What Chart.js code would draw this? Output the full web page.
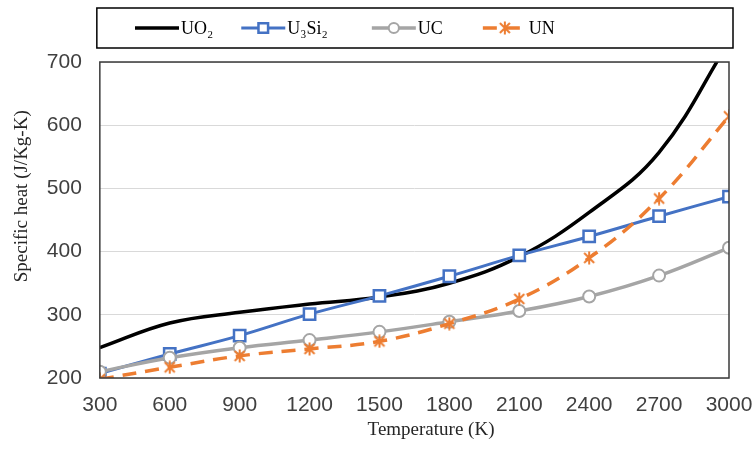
<!DOCTYPE html>
<html>
<head>
<meta charset="utf-8">
<script src="https://cdn.jsdelivr.net/npm/chart.js@4.4.0/dist/chart.umd.min.js"></script>
<style>
    html, body { margin: 0; padding: 0; background: #fff; }
    #wrap { width: 755px; height: 450px; }
</style>
</head>
<body>
<div id="wrap"><canvas id="chart" width="755" height="450"></canvas></div>
<script>
// temperature (K) and specific heat (J/Kg-K)
var temps = [300, 600, 900, 1200, 1500, 1800, 2100, 2400, 2700, 3000];
var uo2   = [248, 287, 304, 317, 328, 350, 392, 462, 557, 732];
var u3si2 = [207, 238, 267, 301, 330, 361, 394, 424, 456, 487];
var uc    = [210, 232, 248, 260, 273, 289, 306, 329, 362, 406];
var un    = [198, 217, 235, 246, 258, 286, 325, 390, 484, 614];

var names = ['UO\u2082', 'U\u2083Si\u2082', 'UC', 'UN'];
// the titles sit a little off-centre in the original, leading spaces shift them
var xTitle = '       Temperature (K)';
var yTitle = '          Specific heat (J/Kg-K)';

function pairs(ys) {
    var out = [];
    for (var i = 0; i < temps.length; i++) {
        out.push({ x: temps[i], y: ys[i] });
    }
    return out;
}

/* asterisk marker, like the excel one */
function starMarker(color) {
    var c = document.createElement('canvas');
    c.width = 14;
    c.height = 14;
    var g = c.getContext('2d');
    g.strokeStyle = color;
    g.lineWidth = 2;
    g.beginPath();
    g.moveTo(2, 2); g.lineTo(12, 12);
    g.moveTo(12, 2); g.lineTo(2, 12);
    g.moveTo(7, 0.5); g.lineTo(7, 13.5);
    g.stroke();
    return c;
}

var serif = '"Liberation Serif", "Times New Roman", serif';
var sans = '"Liberation Sans", Arial, sans-serif';

/* plot frame and the boxed legend on top */
var legendGaps = [28, 44, 40];
var frame = {
    id: 'frame',
    afterDatasetsDraw: function (chart) {
        var ctx = chart.ctx;
        var a = chart.chartArea;
        ctx.save();
        ctx.strokeStyle = '#3a3a3a';
        ctx.lineWidth = 1.5;
        ctx.strokeRect(a.left, a.top, a.right - a.left, a.bottom - a.top);
        ctx.restore();
    },
    afterDraw: function (chart) {
        var ctx = chart.ctx;
        var a = chart.chartArea;
        ctx.save();
        ctx.strokeStyle = '#000';
        ctx.lineWidth = 1.5;
        ctx.strokeRect(a.left - 3, 8, a.right - a.left + 7, 40);

        ctx.font = '18px ' + serif;
        ctx.textBaseline = 'middle';
        ctx.textAlign = 'left';
        var x = 135, y = 28;
        chart.data.datasets.forEach(function (ds, i) {
            ctx.strokeStyle = ds.borderColor;
            ctx.lineWidth = ds.borderWidth;
            ctx.setLineDash(ds.borderDash || []);
            ctx.beginPath();
            ctx.moveTo(x, y);
            ctx.lineTo(x + 44, y);
            ctx.stroke();
            ctx.setLineDash([]);
            if (ds.pointRadius > 0) {
                ctx.fillStyle = ds.pointBackgroundColor;
                ctx.strokeStyle = ds.pointBorderColor;
                ctx.lineWidth = ds.pointBorderWidth;
                Chart.helpers.drawPoint(ctx, {
                    pointStyle: ds.pointStyle,
                    rotation: 0,
                    radius: ds.pointRadius * 0.85,
                    borderWidth: ds.pointBorderWidth
                }, x + 22, y);
            }
            ctx.fillStyle = '#000';
            ctx.fillText(ds.label, x + 46, y + 1);
            x += 46 + ctx.measureText(ds.label).width + (legendGaps[i] || 0);
        });
        ctx.restore();
    }
};

var chart = new Chart(document.getElementById('chart'), {
    type: 'line',
    data: {
        datasets: [{
            label: names[0],
            data: pairs(uo2),
            borderColor: '#000000',
            borderWidth: 3.5,
            pointRadius: 0,
            tension: 0.4,
            order: 3
        }, {
            label: names[1],
            data: pairs(u3si2),
            borderColor: '#4472C4',
            borderWidth: 3,
            pointStyle: 'rect',
            pointRadius: 8,
            pointBorderWidth: 2.5,
            pointBackgroundColor: '#ffffff',
            pointBorderColor: '#4472C4',
            tension: 0.4,
            order: 2
        }, {
            label: names[2],
            data: pairs(uc),
            borderColor: '#A5A5A5',
            borderWidth: 3.5,
            pointStyle: 'circle',
            pointRadius: 6,
            pointBorderWidth: 2,
            pointBackgroundColor: '#ffffff',
            pointBorderColor: '#A5A5A5',
            tension: 0.4,
            order: 1
        }, {
            label: names[3],
            data: pairs(un),
            borderColor: '#ED7D31',
            borderWidth: 3.5,
            borderDash: [14, 9],
            pointStyle: starMarker('#ED7D31'),
            pointRadius: 7,
            pointBorderWidth: 2,
            pointBackgroundColor: '#ED7D31',
            pointBorderColor: '#ED7D31',
            tension: 0.4,
            order: 0
        }]
    },
    options: {
        responsive: false,
        animation: false,
        devicePixelRatio: 1,
        layout: { padding: { top: 62, right: 26, left: 11, bottom: 0 } },
        plugins: {
            legend: { display: false },
            tooltip: { enabled: false }
        },
        scales: {
            x: {
                type: 'linear',
                min: 300,
                max: 3000,
                // tick marks only used as a gap, kept invisible
                grid: { color: 'transparent', drawOnChartArea: false, tickColor: 'transparent', tickLength: 15 },
                border: { display: false },
                ticks: {
                    stepSize: 300,
                    padding: 0,
                    color: '#404040',
                    font: { family: sans, size: 21 },
                    maxRotation: 0,
                    autoSkip: false,
                    callback: function (v) { return String(v); }
                },
                title: {
                    display: true,
                    text: xTitle,
                    color: '#262626',
                    font: { family: serif, size: 19 },
                    padding: { top: 0, bottom: 9 }
                }
            },
            y: {
                min: 200,
                max: 700,
                grid: { color: '#d9d9d9', lineWidth: 1, tickColor: 'transparent', tickLength: 18 },
                border: { display: false },
                ticks: {
                    stepSize: 100,
                    padding: 0,
                    color: '#404040',
                    font: { family: sans, size: 21 }
                },
                title: {
                    display: true,
                    text: yTitle,
                    color: '#262626',
                    font: { family: serif, size: 19 },
                    padding: { top: 0, bottom: 13 }
                }
            }
        }
    },
    plugins: [frame]
});
</script>
</body>
</html>
